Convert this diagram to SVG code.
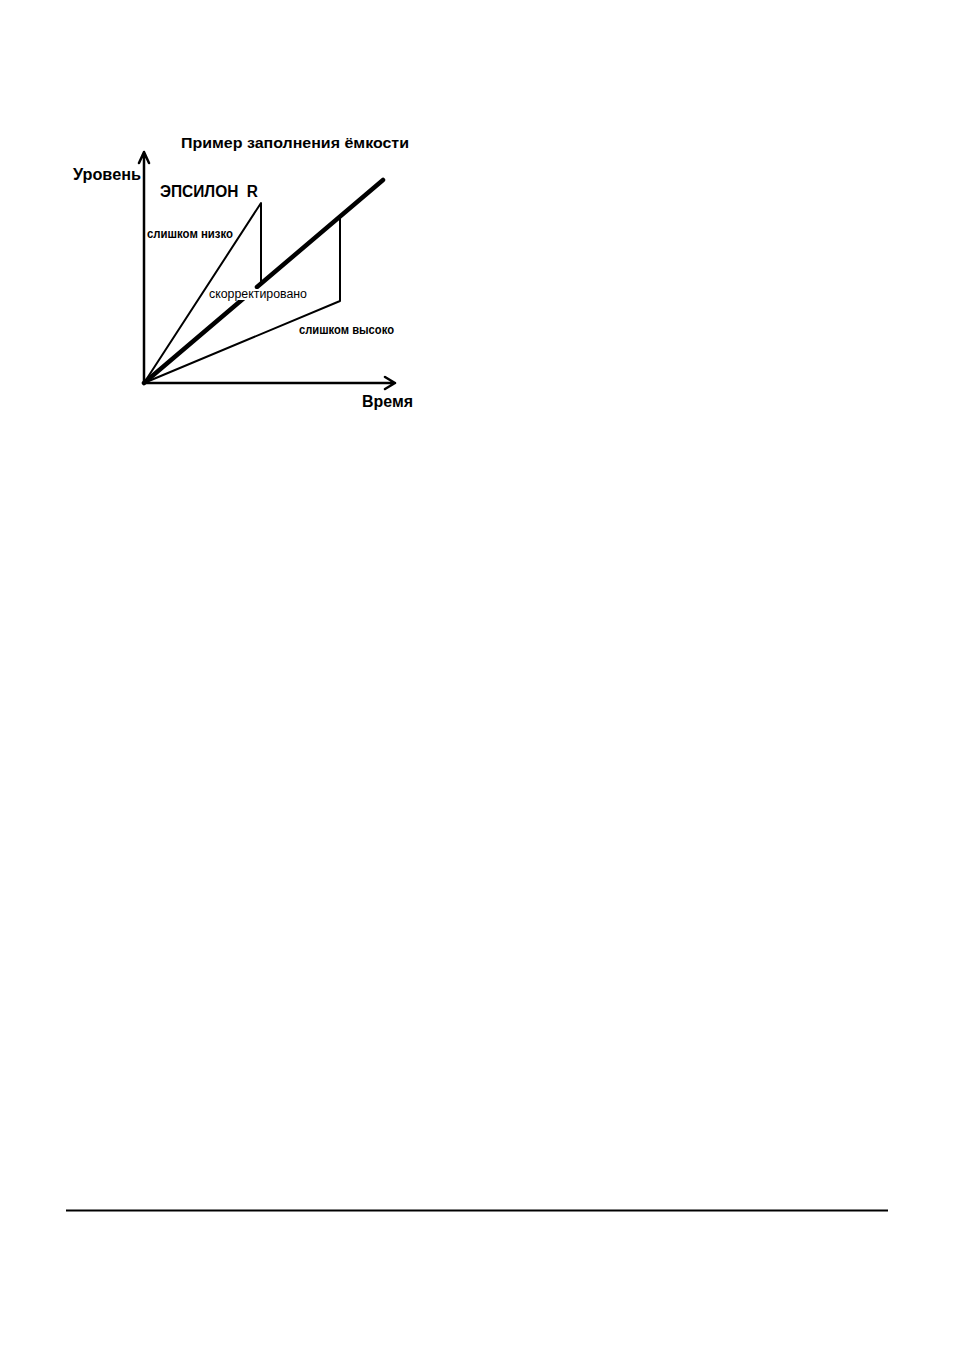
<svg xmlns="http://www.w3.org/2000/svg" width="954" height="1350" viewBox="0 0 954 1350">
<style>
.t{font-family:"Liberation Sans",Arial,sans-serif;fill:#000}
.b{font-weight:bold}
.thin{stroke:#000;stroke-width:2;fill:none;stroke-linecap:round;stroke-linejoin:round}
.thick{stroke:#000;stroke-width:4.5;fill:none;stroke-linecap:round}
.ax{stroke:#000;stroke-width:2.5;fill:none;stroke-linecap:round;stroke-linejoin:round}
</style>
<rect width="954" height="1350" fill="#fff"/>
<g id="connectors">
<path class="ax" d="M144,383 V152 M139,163 L144,152 L149,163"/>
<path class="ax" d="M144,383 H395 M385,377 L395,383 L385,389"/>
<path class="thin" d="M144,383 L261,203 V283"/>
<path class="thin" d="M144,383 L340,301 V217"/>
<path class="thick" d="M144,383 L244,298 M257,287 L383,180"/>
</g>
<g id="title"><text class="t b" x="181" y="148" font-size="14" textLength="228" lengthAdjust="spacingAndGlyphs">Пример заполнения ёмкости</text></g>
<g id="y-label"><text class="t b" x="73" y="180" font-size="16" textLength="68" lengthAdjust="spacingAndGlyphs">Уровень</text></g>
<g id="x-label"><text class="t b" x="362" y="407" font-size="16" textLength="51" lengthAdjust="spacingAndGlyphs">Время</text></g>
<g id="epsilon"><text class="t b" x="160" y="197" font-size="16" textLength="98" lengthAdjust="spacingAndGlyphs" xml:space="preserve">ЭПСИЛОН  R</text></g>
<g id="low"><text class="t b" x="147" y="238" font-size="12" textLength="86" lengthAdjust="spacingAndGlyphs">слишком низко</text></g>
<g id="corrected"><rect x="208" y="289" width="100" height="11" fill="#fff"/><text class="t" x="209" y="298" font-size="12" textLength="98" lengthAdjust="spacingAndGlyphs">скорректировано</text></g>
<g id="high"><text class="t b" x="299" y="334" font-size="12" textLength="95" lengthAdjust="spacingAndGlyphs">слишком высоко</text></g>
<line x1="66" y1="1210.5" x2="888" y2="1210.5" stroke="#000" stroke-width="2"/>
</svg>
